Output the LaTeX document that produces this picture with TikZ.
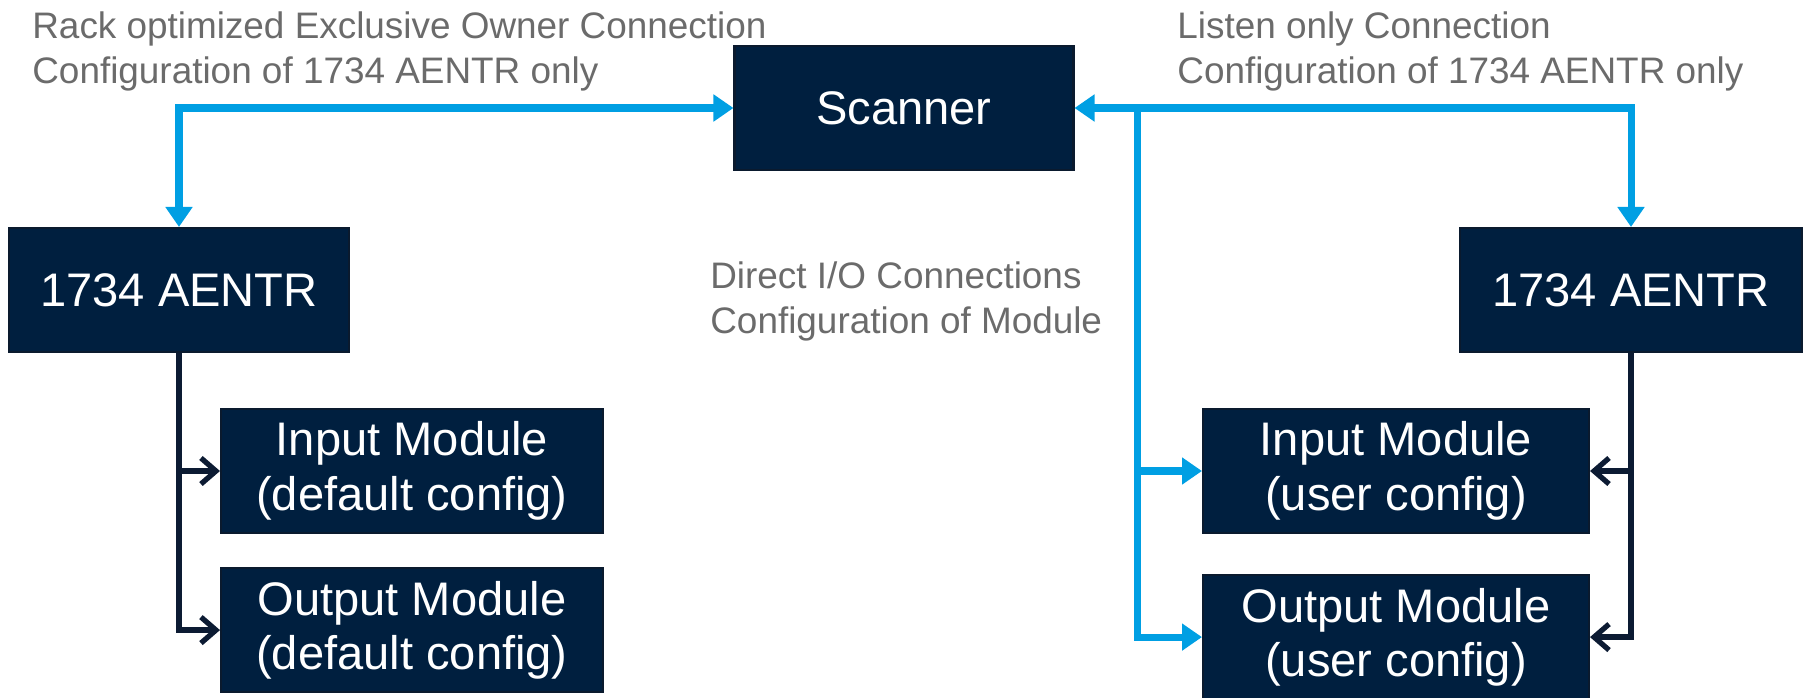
\documentclass[tikz,border=0pt]{standalone}
\usepackage{fontspec}
\setmainfont{Liberation Sans}
\usepackage{xcolor}
\usetikzlibrary{arrows.meta,positioning}

\definecolor{boxnavy}{HTML}{001F3F}
\definecolor{boxedge}{HTML}{0A1A2E}
\definecolor{linkblue}{HTML}{009FE3}
\definecolor{linkdark}{HTML}{0C1B33}
\definecolor{notegray}{HTML}{6B6B6B}

\begin{document}
\begin{tikzpicture}[x=0.02cm,y=-0.02cm,
	unit/.style={draw=boxedge,line width=1.2pt,fill=boxnavy,text=white,align=center,inner sep=0pt,
		minimum height=2.48cm,font=\fontsize{26.8}{31}\selectfont},
	note/.style={text=notegray,align=left,inner sep=0pt,font=\fontsize{21}{25.5}\selectfont},
	bluelink/.style={draw=linkblue,line width=4pt},
	darklink/.style={draw=linkdark,line width=3pt,-{Straight Barb[length=0.3cm,width=0.52cm]}}]

\useasboundingbox (0,0) rectangle (1805,697);

% boxes
\node[unit,minimum width=6.78cm] (scanner) at (904,108) {Scanner};
\node[unit,minimum width=6.8cm] (aentrL) at (179,290) {1734 AENTR};
\node[unit,minimum width=6.84cm] (aentrR) at (1631,290) {1734 AENTR};

\node[unit,minimum width=7.64cm] (inL) at (412,471) {Input Module\\(default config)};
\node[unit,minimum width=7.64cm,below=0.66cm of inL] (outL) {Output Module\\(default config)};
\node[unit,minimum width=7.72cm] (inR) at (1396,471) {Input Module\\(user config)};
\node[unit,minimum width=7.72cm,below=0.8cm of inR] (outR) {Output Module\\(user config)};

% notes
\node[note,anchor=base west] (rackNote) at (32,83) {Rack optimized Exclusive Owner Connection\\Configuration of 1734 AENTR only};
\node[note,anchor=base west] (listenNote) at (1177,83) {Listen only Connection\\Configuration of 1734 AENTR only};
\node[note,anchor=base west] (directNote) at (710,333) {Direct I/O Connections\\Configuration of Module};

% scanner links
\draw[bluelink,{Triangle[length=0.4cm,width=0.52cm]}-{Triangle[length=0.4cm,width=0.52cm]}] (aentrL.north) |- (scanner.west);
\draw[bluelink,{Triangle[length=0.4cm,width=0.52cm]}-{Triangle[length=0.4cm,width=0.52cm]}] (aentrR.north) |- (scanner.east);
\coordinate (tap) at (1137,108);
\draw[bluelink,-{Triangle[length=0.4cm,width=0.52cm]}] (tap) |- (inR.west);
\draw[bluelink,-{Triangle[length=0.4cm,width=0.52cm]}] (tap) |- (outR.west);

% rack links
\draw[darklink] (aentrL.south) |- (inL.west);
\draw[darklink] (aentrL.south) |- (outL.west);
\draw[darklink] (aentrR.south) |- (inR.east);
\draw[darklink] (aentrR.south) |- (outR.east);

\end{tikzpicture}
\end{document}
